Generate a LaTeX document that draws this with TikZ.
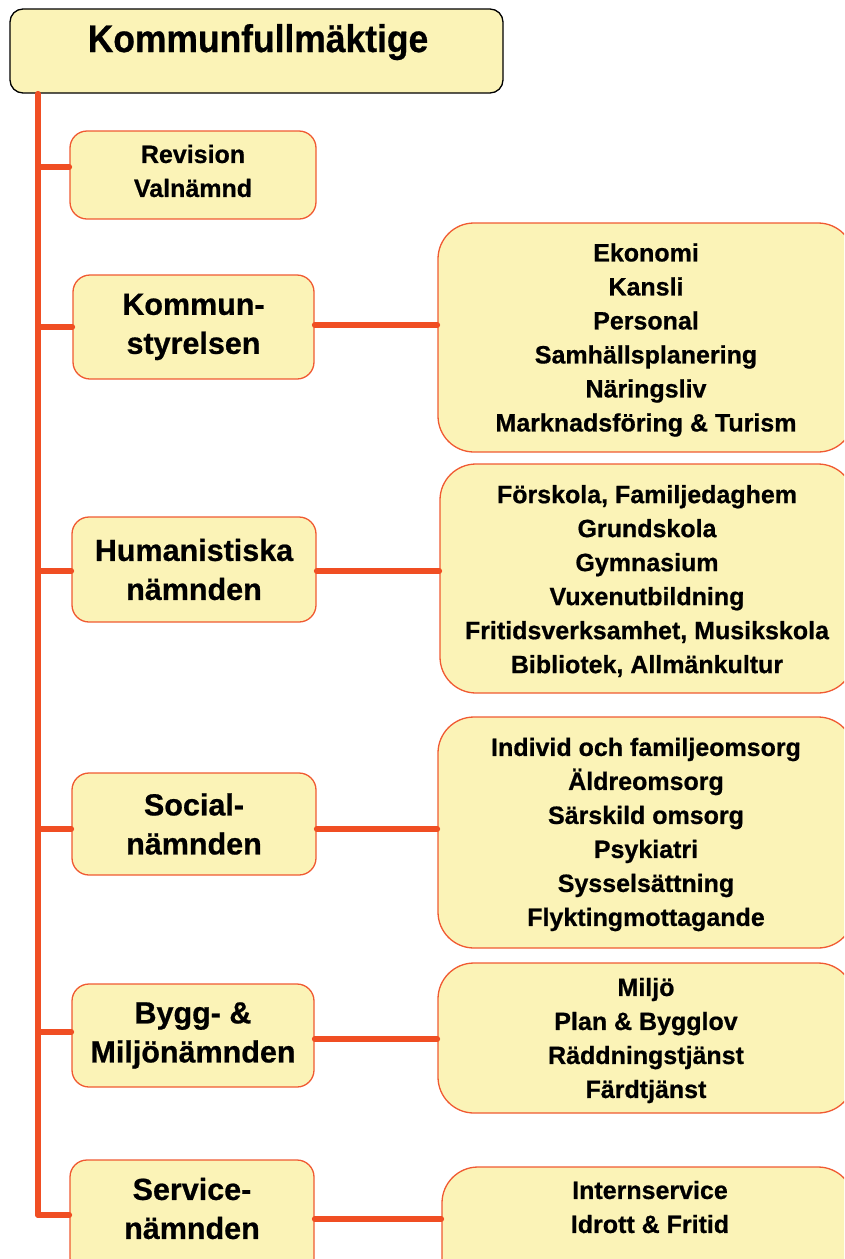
\documentclass[tikz,border=0pt]{standalone}
\usepackage{fontspec}
\setmainfont{Liberation Sans}[BoldFeatures={FakeBold=0.7}]
\usepackage{graphicx}
\definecolor{boxfill}{HTML}{FBF3B7}
\definecolor{boxline}{HTML}{F05A32}
\definecolor{linkred}{HTML}{F04E23}
\begin{document}
\begin{tikzpicture}[x=1pt,y=-1pt,
  basebox/.style={draw=boxline, line width=1.3pt, fill=boxfill, inner sep=0pt, align=center, text=black},
  midbox/.style={basebox, rounded corners=17pt, font=\bfseries\fontsize{30.5}{39}\selectfont},
  smallbox/.style={basebox, rounded corners=17pt, font=\bfseries\fontsize{25}{34}\selectfont},
  listbox/.style={basebox, rounded corners=36pt, font=\bfseries\fontsize{25}{34}\selectfont},
  midtext/.style={align=center, inner sep=0pt, font=\bfseries\fontsize{30.5}{39}\selectfont},
  listtext/.style={align=center, inner sep=0pt, font=\bfseries\fontsize{25}{34}\selectfont},
  link/.style={draw=linkred, line width=5.5pt, line cap=round}]
\clip (0,0) rectangle (844,1259);
\useasboundingbox (0,0) rectangle (844,1259);

% top box
\node[draw=black, line width=1.3pt, fill=boxfill, rounded corners=13pt, inner sep=0pt,
      minimum width=493pt, minimum height=84pt] (kf) at (256.5,51) {};
\node[anchor=base, inner sep=0pt, font=\bfseries\fontsize{38.5}{40}\selectfont] (kft) at (258,52)
  {\scalebox{0.92}[1]{Kommunfullmäktige}};

% left boxes
\node[smallbox, minimum width=246pt, minimum height=88pt] (rev) at (193,175) {};
\node[listtext] (revt) at (193,171) {Revision\\Valnämnd};
\node[midbox, minimum width=241pt, minimum height=104pt] (ks) at (193.5,327) {Kommun-\\styrelsen};
\node[midbox, minimum width=244pt, minimum height=105pt] (hum) at (194,569.5) {Humanistiska\\nämnden};
\node[midbox, minimum width=244pt, minimum height=102pt] (soc) at (194,824) {Social-\\nämnden};
\node[midbox, minimum width=242pt, minimum height=103pt] (bm) at (193,1035.5) {Bygg- \&\\Miljönämnden};
\node[midbox, minimum width=244pt, minimum height=115pt] (srv) at (192,1217.5) {};
\node[midtext] (srvt) at (192,1208.5) {Service-\\nämnden};

% right boxes
\node[listbox, minimum width=416pt, minimum height=229pt] (r1) at (646,337.5) {};
\node[listtext] (r1t) at (646,340)
  {Ekonomi\\Kansli\\Personal\\Samhällsplanering\\Näringsliv\\Marknadsföring \& Turism};
\node[listbox, minimum width=414pt, minimum height=229pt] (r2) at (647,578.5) {};
\node[listtext] (r2t) at (647,581)
  {Förskola, Familjedaghem\\Grundskola\\Gymnasium\\Vuxenutbildning\\Fritidsverksamhet, Musikskola\\Bibliotek, Allmänkultur};
\node[listbox, minimum width=416pt, minimum height=231pt] (r3) at (646,832.5) {};
\node[listtext] (r3t) at (646,834.5)
  {Individ och familjeomsorg\\Äldreomsorg\\Särskild omsorg\\Psykiatri\\Sysselsättning\\Flyktingmottagande};
\node[listbox, minimum width=416pt, minimum height=150pt] (r4) at (646,1038) {};
\node[listtext] (r4t) at (646,1040.5)
  {Miljö\\Plan \& Bygglov\\Räddningstjänst\\Färdtjänst};
\node[listbox, minimum width=412pt, minimum height=130pt] (r5) at (648,1232) {};
\node[listtext] (r5t) at (650,1207) {Internservice\\Idrott \& Fritid};

% trunk
\coordinate (tt) at (38,93);
\coordinate (tb) at (38,1215);
\draw[link] (kf.south -| tt) -- (tb);

% attach points
\coordinate (revL) at ([yshift=8pt]rev.west);
\coordinate (ksL) at (ks.west);
\coordinate (humL) at ([yshift=-1.5pt]hum.west);
\coordinate (socL) at ([yshift=-5pt]soc.west);
\coordinate (bmL) at ([yshift=3.5pt]bm.west);
\coordinate (srvL) at ([yshift=2.5pt]srv.west);

\coordinate (ksR) at ([yshift=2pt]ks.east);
\coordinate (humR) at ([yshift=-1.5pt]hum.east);
\coordinate (socR) at ([yshift=-5pt]soc.east);
\coordinate (bmR) at ([yshift=-3.5pt]bm.east);
\coordinate (srvR) at ([yshift=-1.5pt]srv.east);

% branches from trunk
\draw[link] (revL -| tt) -- (revL);
\draw[link] (ksL -| tt) -- (ksL);
\draw[link] (humL -| tt) -- (humL);
\draw[link] (socL -| tt) -- (socL);
\draw[link] (bmL -| tt) -- (bmL);
\draw[link] (srvL -| tt) -- (srvL);

% right links
\draw[link] (ksR) -- (ksR -| r1.west);
\draw[link] (humR) -- (humR -| r2.west);
\draw[link] (socR) -- (socR -| r3.west);
\draw[link] (bmR) -- (bmR -| r4.west);
\draw[link] (srvR) -- (srvR -| r5.west);
\end{tikzpicture}
\end{document}
